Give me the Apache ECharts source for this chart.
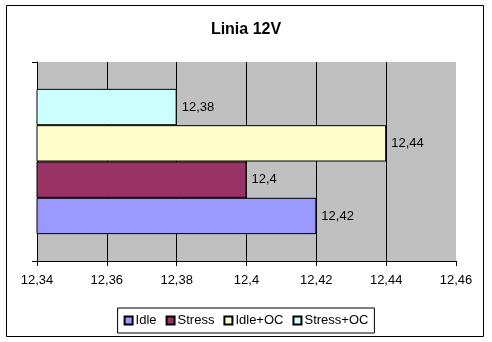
<!DOCTYPE html>
<html><head><meta charset="utf-8">
<script src="https://cdn.jsdelivr.net/npm/echarts@6/dist/echarts.min.js"></script>
<style>html,body{margin:0;padding:0;background:#fff}#c{width:492px;height:342px}</style>
</head><body><div id="c"></div>
<script>
const titleText = 'Linia 12V';
const categories = [''];
const seriesNames = ['Idle', 'Stress', 'Idle+OC', 'Stress+OC'];
const idle = [12.42];
const stress = [12.4];
const idleOC = [12.44];
const stressOC = [12.38];
const seriesValues = [idle, stress, idleOC, stressOC];
const colors = ['#9999FF', '#993366', '#FFFFCC', '#CCFFFF'];
const axisMin = 12.34, axisMax = 12.46, axisStep = 0.02;

const fmt = v => String(+v.toFixed(2)).replace('.', ',');
const font = '"Liberation Sans", Arial, sans-serif';

const seriesList = seriesNames.map((name, i) => ({
  name, type: 'bar', data: seriesValues[i],
  barGap: '0%', barCategoryGap: '27%',
  itemStyle: {color: colors[i], borderColor: '#000', borderWidth: 1},
  label: {show: true, position: 'right', distance: 5, fontFamily: font, fontSize: 13, color: '#000',
    formatter: p => fmt(p.value)}
})).reverse();

const chart = echarts.init(document.getElementById('c'), null, {renderer: 'canvas'});
chart.setOption({
  animation: false,
  backgroundColor: '#fff',
  title: {
    text: titleText, left: 'center', top: 17,
    textStyle: {fontFamily: font, fontSize: 16, fontWeight: 'bold', color: '#000'}
  },
  graphic: [{
    type: 'rect', shape: {x: 6.5, y: 5.5, width: 477, height: 331},
    style: {fill: 'none', stroke: '#000', lineWidth: 1}, silent: true, z: 100
  }],
  grid: {left: 37, right: 36, top: 62, bottom: 81, show: true, backgroundColor: '#C0C0C0', borderWidth: 0},
  legend: {
    bottom: 9, left: 'center',
    data: seriesNames,
    itemWidth: 8, itemHeight: 8, itemGap: 9,
    padding: [6, 6, 6, 6],
    borderColor: '#000', borderWidth: 1,
    icon: 'rect',
    textStyle: {fontFamily: font, fontSize: 13, color: '#000', padding: [0, 0, 0, -2]}
  },
  xAxis: {
    type: 'value', min: axisMin, max: axisMax, interval: axisStep,
    axisLine: {show: true, lineStyle: {color: '#000', width: 1}},
    axisTick: {show: true, length: 5, lineStyle: {color: '#000'}},
    axisLabel: {fontFamily: font, fontSize: 13, color: '#000', margin: 13, formatter: fmt},
    splitLine: {show: true, lineStyle: {color: ['transparent', '#000', '#000', '#000', '#000', '#000', 'transparent'], width: 1}}
  },
  yAxis: {
    type: 'category', data: categories,
    axisLine: {show: true, lineStyle: {color: '#000', width: 1}},
    axisTick: {show: true, length: 5, lineStyle: {color: '#000'}},
    axisLabel: {show: false},
    splitLine: {show: false}
  },
  series: seriesList
});
</script></body></html>
